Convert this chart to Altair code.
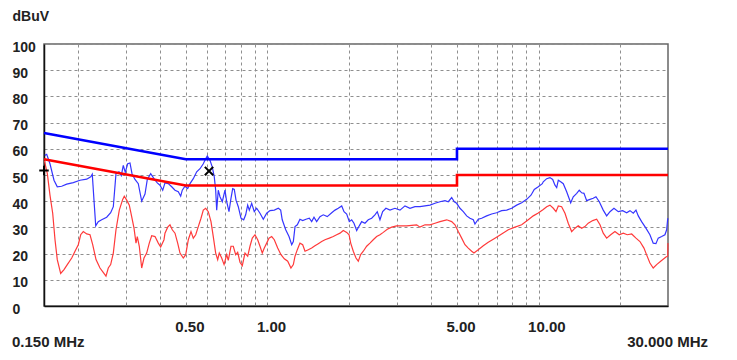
import altair as alt
import pandas as pd

# ---- measured traces (frequency in MHz, level in dBuV) ----
blue_freq = [0.151, 0.1535, 0.1578, 0.1633, 0.1679, 0.1743, 0.1819, 0.1924, 0.2036, 0.2156,
             0.2230, 0.2260, 0.2293, 0.2327, 0.2378, 0.2448, 0.2554, 0.2642, 0.2702, 0.2764,
             0.2836, 0.2891, 0.2941, 0.2991, 0.3053, 0.3113, 0.3167, 0.3248, 0.3340, 0.3438,
             0.3536, 0.3606, 0.3711, 0.3817, 0.3925, 0.4016, 0.4110, 0.4190, 0.4309, 0.4436,
             0.4562, 0.4691, 0.4788, 0.4853, 0.4966, 0.5081, 0.5182, 0.5329, 0.5485, 0.5641,
             0.5801, 0.5920, 0.6001, 0.6140, 0.6262, 0.6368, 0.6444, 0.6500, 0.6588, 0.6684,
             0.6816, 0.6974, 0.7076, 0.7215, 0.7338, 0.7446, 0.7547, 0.7658, 0.7808, 0.7989,
             0.8174, 0.8314, 0.8457, 0.8573, 0.8749, 0.8944, 0.9129, 0.9388, 0.9655, 0.9937,
             1.022, 1.060, 1.097, 1.119, 1.134, 1.168, 1.201, 1.229, 1.246, 1.264,
             1.289, 1.318, 1.349, 1.387, 1.427, 1.456, 1.485, 1.519, 1.562, 1.607,
             1.662, 1.726, 1.775, 1.825, 1.879, 1.916, 1.960, 2.004, 2.045, 2.085,
             2.134, 2.181, 2.226, 2.289, 2.354, 2.423, 2.491, 2.541, 2.600, 2.660,
             2.735, 2.831, 2.953, 3.082, 3.215, 3.355, 3.500, 3.652, 3.810, 3.976,
             4.148, 4.328, 4.516, 4.644, 4.780, 4.887, 4.987, 5.129, 5.275, 5.429,
             5.583, 5.742, 5.825, 5.99, 6.166, 6.434, 6.712, 7.0, 7.307, 7.625,
             7.955, 8.30, 8.661, 9.036, 9.372, 9.638, 9.97, 10.32, 10.40, 10.71,
             11.01, 11.27, 11.49, 11.66, 11.82, 12.06, 12.33, 12.69, 13.13, 13.42,
             13.82, 14.12, 14.41, 14.70, 15.04, 15.47, 15.90, 16.27, 16.74, 17.31,
             17.82, 18.33, 18.96, 19.67, 20.42, 21.12, 21.72, 22.34, 22.86, 23.31,
             23.98, 24.87, 25.73, 26.46, 27.08, 27.61, 28.43, 29.23, 29.66, 29.9,
             30.0]
blue_level = [57.5, 57.9, 54.3, 48.0, 45.5, 45.7, 46.5, 47.1, 48.0, 48.4,
              49.3, 50.3, 40.4, 30.6, 32.2, 32.9, 33.9, 35.6, 37.9, 50.5,
              51.2, 49.8, 53.7, 51.0, 54.3, 54.6, 50.5, 48.3, 46.7, 40.0,
              42.7, 48.3, 50.5, 48.6, 47.0, 46.1, 44.2, 47.0, 46.7, 45.5,
              44.2, 43.6, 41.9, 44.2, 45.7, 44.8, 46.7, 48.6, 51.2, 52.4,
              54.3, 56.2, 57.3, 55.6, 53.0, 49.3, 44.2, 36.6, 44.2, 41.7,
              39.8, 44.2, 39.8, 36.0, 41.1, 44.8, 44.5, 40.4, 37.9, 33.5,
              32.9, 34.8, 38.5, 36.6, 39.2, 36.0, 37.3, 35.4, 33.1, 35.4,
              36.4, 36.6, 37.3, 36.6, 32.9, 29.1, 26.5, 23.4, 24.6, 30.3,
              31.0, 33.1, 32.6, 33.1, 33.5, 32.2, 33.9, 32.2, 34.1, 34.8,
              34.1, 35.6, 36.6, 37.3, 38.2, 36.0, 35.1, 32.2, 32.9, 31.6,
              28.8, 30.6, 32.2, 31.6, 32.9, 33.5, 34.8, 36.0, 32.9, 36.0,
              37.3, 36.6, 37.3, 36.6, 38.2, 37.3, 37.9, 37.9, 38.2, 38.5,
              39.2, 39.8, 40.2, 39.8, 41.4, 39.8, 39.2, 37.3, 36.0, 34.4,
              33.5, 32.9, 31.3, 33.1, 33.5, 34.4, 35.1, 35.6, 36.4, 36.6,
              37.3, 38.5, 39.4, 40.7, 42.3, 44.5, 45.5, 46.7, 47.4, 48.6,
              49.0, 48.3, 46.1, 45.2, 48.0, 47.4, 46.7, 43.6, 39.4, 41.7,
              43.0, 44.2, 43.2, 43.0, 40.2, 40.7, 41.1, 41.7, 39.8, 36.6,
              34.4, 36.0, 37.3, 36.0, 36.4, 35.6, 36.4, 35.4, 36.6, 34.4,
              32.2, 29.7, 27.2, 24.0, 23.8, 25.9, 26.5, 27.2, 29.1, 32.9,
              33.5]

red_freq = [0.1505, 0.1543, 0.1578, 0.1615, 0.1647, 0.1679, 0.1728, 0.1778, 0.1828, 0.1898,
            0.1952, 0.2007, 0.2048, 0.2094, 0.2156, 0.2217, 0.2268, 0.2333, 0.2413, 0.2484,
            0.2539, 0.2589, 0.2642, 0.2702, 0.2764, 0.2843, 0.2926, 0.2966, 0.3027, 0.3095,
            0.3158, 0.3221, 0.3276, 0.3312, 0.3369, 0.3438, 0.3506, 0.3587, 0.3667, 0.3743,
            0.3850, 0.3959, 0.4040, 0.4155, 0.4190, 0.4288, 0.4372, 0.4458, 0.4562, 0.4667,
            0.4760, 0.4895, 0.4996, 0.5108, 0.5226, 0.5329, 0.5439, 0.5560, 0.5689, 0.5801,
            0.5920, 0.6052, 0.6193, 0.6314, 0.6444, 0.6555, 0.6644, 0.6781, 0.6920, 0.7076,
            0.7172, 0.7338, 0.7483, 0.7638, 0.7768, 0.7922, 0.8078, 0.8265, 0.8457, 0.8624,
            0.8794, 0.8998, 0.9206, 0.9388, 0.9573, 0.9737, 0.9937, 1.0133, 1.0368, 1.060,
            1.091, 1.122, 1.154, 1.188, 1.221, 1.246, 1.264, 1.289, 1.318, 1.349,
            1.376, 1.415, 1.456, 1.497, 1.540, 1.585, 1.630, 1.691, 1.749, 1.800,
            1.852, 1.904, 1.960, 2.0, 2.028, 2.073, 2.121, 2.163, 2.207, 2.257,
            2.322, 2.388, 2.456, 2.528, 2.600, 2.674, 2.767, 2.872, 2.996, 3.126,
            3.262, 3.403, 3.551, 3.652, 3.810, 3.976, 4.148, 4.328, 4.581, 4.780,
            4.916, 5.055, 5.203, 5.351, 5.503, 5.665, 5.776, 5.99, 6.251, 6.521,
            6.903, 7.307, 7.729, 8.182, 8.661, 9.159, 9.557, 9.97, 10.40, 10.71,
            11.01, 11.33, 11.59, 11.82, 12.16, 12.51, 12.86, 13.24, 13.62, 14.00,
            14.41, 14.82, 15.24, 15.83, 16.37, 16.84, 17.31, 17.82, 18.44, 19.12,
            19.83, 20.52, 21.23, 22.04, 22.86, 23.64, 24.46, 25.0, 25.73, 26.46,
            27.24, 28.19, 29.48, 29.93, 30.0]
red_level = [55.5, 50.5, 42.3, 35.4, 25.3, 17.7, 12.4, 13.9, 15.8, 18.3,
             20.9, 23.4, 27.2, 28.4, 27.5, 27.2, 23.4, 17.7, 14.5, 12.7,
             11.4, 14.5, 15.8, 20.2, 29.1, 36.6, 40.7, 41.9, 40.4, 38.5,
             34.1, 29.7, 24.0, 26.5, 22.8, 14.5, 18.3, 20.2, 24.0, 26.8,
             26.5, 24.0, 22.5, 25.3, 27.8, 30.1, 31.0, 29.1, 27.8, 24.0,
             20.2, 18.3, 19.6, 25.3, 28.4, 25.9, 27.2, 30.3, 33.5, 36.6,
             37.3, 36.0, 32.2, 26.5, 20.2, 17.7, 20.2, 18.3, 15.8, 19.6,
             17.4, 22.8, 22.8, 19.6, 20.5, 16.7, 15.4, 20.2, 19.0, 22.8,
             25.9, 27.2, 25.3, 22.8, 20.2, 22.1, 24.0, 25.9, 26.5, 25.3,
             22.1, 19.6, 18.0, 17.1, 14.5, 15.8, 19.0, 21.5, 24.0, 23.4,
             20.9, 21.5, 22.1, 23.0, 23.8, 24.6, 25.3, 25.9, 26.5, 27.2,
             27.8, 28.8, 28.1, 27.2, 24.0, 20.9, 18.3, 17.1, 19.6, 20.9,
             22.8, 24.0, 25.3, 26.5, 27.2, 28.1, 29.3, 30.1, 30.6, 30.6,
             30.6, 30.8, 31.0, 30.1, 31.0, 31.0, 31.6, 32.2, 32.9, 32.2,
             31.0, 28.4, 25.9, 23.4, 22.1, 20.9, 20.2, 21.5, 23.0, 24.3,
             25.9, 27.5, 29.1, 30.1, 31.0, 32.9, 34.4, 35.5, 36.8, 37.9,
             38.5, 37.3, 36.0, 38.2, 37.9, 35.4, 31.6, 28.4, 29.7, 30.6,
             29.7, 30.3, 31.6, 32.6, 33.1, 31.0, 27.8, 25.9, 27.2, 28.4,
             27.2, 27.8, 27.2, 27.5, 25.9, 24.6, 22.1, 19.6, 16.4, 14.5,
             15.8, 17.1, 18.7, 19.0, 24.0]

# ---- limit lines ----
qp_freq = [0.15, 0.5, 5.0, 5.0, 30.0]
qp_level = [66, 56, 56, 60, 60]
av_freq = [0.15, 0.5, 5.0, 5.0, 30.0]
av_level = [56, 46, 46, 50, 50]

# ---- markers ----
plus_freq = [0.15]
plus_level = [51.7]
cross_freq = [0.609]
cross_level = [51.5]

# ---- axis ticks ----
grid_freqs = [0.2, 0.3, 0.4, 0.5, 0.6, 0.7, 0.8, 0.9, 1, 2, 3, 4, 5, 6, 7, 8, 9, 10, 20]
labeled_freqs = [0.5, 1, 5, 10]
y_ticks = [0, 10, 20, 30, 40, 50, 60, 70, 80, 90, 100]
start_label = "0.150 MHz"
end_label = "30.000 MHz"
y_title = "dBuV"


def frame(f, l):
    return pd.DataFrame({"f": f, "level": l, "i": list(range(len(f)))})


FONT = "Liberation Sans"
TXT = "#222222"
GRID = "#8f8f8f"

x_axis = alt.Axis(
    values=grid_freqs,
    labelExpr="indexof(" + str(labeled_freqs) + ", datum.value) >= 0 ? format(datum.value, '.2f') : ''",
    grid=True, gridDash=[3, 3], gridColor=GRID, gridWidth=1,
    ticks=False, tickSize=0,
    domainColor="#111111", domainWidth=1.5,
    labelAlign="left", labelOffset=-11, labelBaseline="top", labelPadding=13,
    labelFont=FONT, labelFontSize=15, labelFontWeight="bold", labelColor=TXT,
    labelOverlap=False, labelFlush=False, title=None,
)
y_axis = alt.Axis(
    values=y_ticks,
    grid=True, gridDash=[3, 3], gridColor=GRID, gridWidth=1,
    ticks=False, tickSize=0,
    domainColor="#111111", domainWidth=1.5,
    labelAlign="left", labelBaseline="middle", labelPadding=32, labelOffset=3,
    labelFont=FONT, labelFontSize=14, labelFontWeight="bold", labelColor=TXT,
    labelOverlap=False, labelFlush=False,
    title=y_title, titleAngle=0, titleAlign="left", titleBaseline="middle",
    titleX=-32, titleY=-28, titleFont=FONT, titleFontSize=14, titleFontWeight="bold",
    titleColor=TXT,
)

X = alt.X("f:Q", scale=alt.Scale(type="log", domain=[0.15, 30], nice=False), axis=x_axis)
Y = alt.Y("level:Q", scale=alt.Scale(domain=[0, 100], nice=False), axis=y_axis)


def line(f, l, color, width):
    return alt.Chart(frame(f, l)).mark_line(color=color, strokeWidth=width, interpolate="linear").encode(
        x=X, y=Y, order="i:Q"
    )


red_trace = line(red_freq, red_level, "#ff3a3a", 1.2)
blue_trace = line(blue_freq, blue_level, "#3535ff", 1.2)
qp_line = line(qp_freq, qp_level, "#0000ff", 2.6)
av_line = line(av_freq, av_level, "#ff0000", 2.6)

plus_mark = alt.Chart(frame(plus_freq, plus_level)).mark_point(
    shape="M-1,0L1,0M0,-1L0,1", filled=False, stroke="#000000", strokeWidth=2, size=90, opacity=1
).encode(x=X, y=Y)
cross_mark = alt.Chart(frame(cross_freq, cross_level)).mark_point(
    shape="M-1,-1L1,1M-1,1L1,-1", filled=False, stroke="#000000", strokeWidth=2, size=70, opacity=1
).encode(x=X, y=Y)

txt_df = pd.DataFrame({"a": [0]})
start_txt = alt.Chart(txt_df).mark_text(
    text=start_label, align="left", baseline="middle", dx=-32,
    font=FONT, fontSize=15, fontWeight="bold", color=TXT
).encode(x=alt.datum(0.15), y=alt.value(298))
end_txt = alt.Chart(txt_df).mark_text(
    text=end_label, align="right", baseline="middle", dx=40,
    font=FONT, fontSize=15, fontWeight="bold", color=TXT
).encode(x=alt.datum(30), y=alt.value(298))

chart = alt.layer(
    red_trace, blue_trace, qp_line, av_line, plus_mark, cross_mark, start_txt, end_txt
).properties(
    width=624, height=262,
    autosize=alt.AutoSizeParams(type="none"),
    padding={"left": 36, "top": 36, "right": 61, "bottom": 46},
    background="white",
).configure_view(stroke="#666666", strokeWidth=1.5)

chart.save("out.html", embed_options={"renderer": "svg", "actions": False})
